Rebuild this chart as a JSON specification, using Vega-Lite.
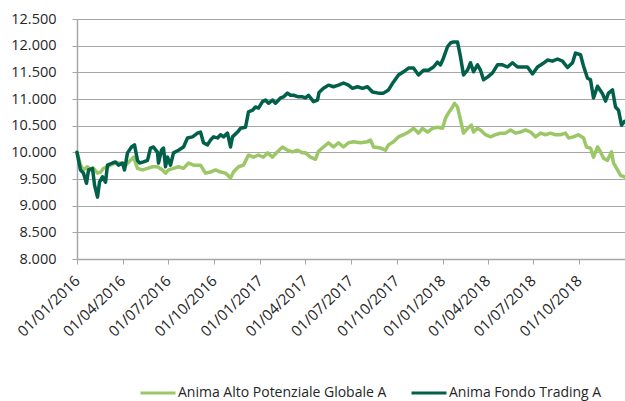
{
  "$schema": "https://vega.github.io/schema/vega-lite/v6.json",
  "width": 548,
  "height": 240,
  "autosize": "none",
  "padding": {"left": 77, "top": 19, "right": 0, "bottom": 142},
  "background": "white",
  "datasets": {
    "serie": [
      {"data": "2016-01-01", "fondo": "Anima Alto Potenziale Globale A", "valore": 10000},
      {"data": "2016-01-08", "fondo": "Anima Alto Potenziale Globale A", "valore": 9760},
      {"data": "2016-01-14", "fondo": "Anima Alto Potenziale Globale A", "valore": 9670},
      {"data": "2016-01-22", "fondo": "Anima Alto Potenziale Globale A", "valore": 9730},
      {"data": "2016-01-28", "fondo": "Anima Alto Potenziale Globale A", "valore": 9670},
      {"data": "2016-02-03", "fondo": "Anima Alto Potenziale Globale A", "valore": 9700},
      {"data": "2016-02-11", "fondo": "Anima Alto Potenziale Globale A", "valore": 9610},
      {"data": "2016-02-17", "fondo": "Anima Alto Potenziale Globale A", "valore": 9630},
      {"data": "2016-02-23", "fondo": "Anima Alto Potenziale Globale A", "valore": 9700},
      {"data": "2016-03-02", "fondo": "Anima Alto Potenziale Globale A", "valore": 9730},
      {"data": "2016-03-08", "fondo": "Anima Alto Potenziale Globale A", "valore": 9760},
      {"data": "2016-03-18", "fondo": "Anima Alto Potenziale Globale A", "valore": 9800},
      {"data": "2016-03-28", "fondo": "Anima Alto Potenziale Globale A", "valore": 9800},
      {"data": "2016-04-07", "fondo": "Anima Alto Potenziale Globale A", "valore": 9760},
      {"data": "2016-04-17", "fondo": "Anima Alto Potenziale Globale A", "valore": 9850},
      {"data": "2016-04-23", "fondo": "Anima Alto Potenziale Globale A", "valore": 9910},
      {"data": "2016-05-01", "fondo": "Anima Alto Potenziale Globale A", "valore": 9700},
      {"data": "2016-05-11", "fondo": "Anima Alto Potenziale Globale A", "valore": 9670},
      {"data": "2016-05-21", "fondo": "Anima Alto Potenziale Globale A", "valore": 9700},
      {"data": "2016-05-31", "fondo": "Anima Alto Potenziale Globale A", "valore": 9730},
      {"data": "2016-06-10", "fondo": "Anima Alto Potenziale Globale A", "valore": 9730},
      {"data": "2016-06-20", "fondo": "Anima Alto Potenziale Globale A", "valore": 9670},
      {"data": "2016-06-26", "fondo": "Anima Alto Potenziale Globale A", "valore": 9610},
      {"data": "2016-07-02", "fondo": "Anima Alto Potenziale Globale A", "valore": 9670},
      {"data": "2016-07-12", "fondo": "Anima Alto Potenziale Globale A", "valore": 9700},
      {"data": "2016-07-22", "fondo": "Anima Alto Potenziale Globale A", "valore": 9730},
      {"data": "2016-08-01", "fondo": "Anima Alto Potenziale Globale A", "valore": 9700},
      {"data": "2016-08-11", "fondo": "Anima Alto Potenziale Globale A", "valore": 9800},
      {"data": "2016-08-21", "fondo": "Anima Alto Potenziale Globale A", "valore": 9760},
      {"data": "2016-09-04", "fondo": "Anima Alto Potenziale Globale A", "valore": 9760},
      {"data": "2016-09-14", "fondo": "Anima Alto Potenziale Globale A", "valore": 9610},
      {"data": "2016-09-24", "fondo": "Anima Alto Potenziale Globale A", "valore": 9630},
      {"data": "2016-10-04", "fondo": "Anima Alto Potenziale Globale A", "valore": 9670},
      {"data": "2016-10-14", "fondo": "Anima Alto Potenziale Globale A", "valore": 9630},
      {"data": "2016-10-24", "fondo": "Anima Alto Potenziale Globale A", "valore": 9610},
      {"data": "2016-11-03", "fondo": "Anima Alto Potenziale Globale A", "valore": 9520},
      {"data": "2016-11-09", "fondo": "Anima Alto Potenziale Globale A", "valore": 9630},
      {"data": "2016-11-19", "fondo": "Anima Alto Potenziale Globale A", "valore": 9730},
      {"data": "2016-11-29", "fondo": "Anima Alto Potenziale Globale A", "valore": 9760},
      {"data": "2016-12-09", "fondo": "Anima Alto Potenziale Globale A", "valore": 9950},
      {"data": "2016-12-19", "fondo": "Anima Alto Potenziale Globale A", "valore": 9910},
      {"data": "2016-12-29", "fondo": "Anima Alto Potenziale Globale A", "valore": 9950},
      {"data": "2017-01-08", "fondo": "Anima Alto Potenziale Globale A", "valore": 9910},
      {"data": "2017-01-16", "fondo": "Anima Alto Potenziale Globale A", "valore": 9990},
      {"data": "2017-01-26", "fondo": "Anima Alto Potenziale Globale A", "valore": 9910},
      {"data": "2017-02-05", "fondo": "Anima Alto Potenziale Globale A", "valore": 10010},
      {"data": "2017-02-15", "fondo": "Anima Alto Potenziale Globale A", "valore": 10100},
      {"data": "2017-02-25", "fondo": "Anima Alto Potenziale Globale A", "valore": 10040},
      {"data": "2017-03-07", "fondo": "Anima Alto Potenziale Globale A", "valore": 10010},
      {"data": "2017-03-17", "fondo": "Anima Alto Potenziale Globale A", "valore": 10040},
      {"data": "2017-03-27", "fondo": "Anima Alto Potenziale Globale A", "valore": 9990},
      {"data": "2017-04-02", "fondo": "Anima Alto Potenziale Globale A", "valore": 9990},
      {"data": "2017-04-12", "fondo": "Anima Alto Potenziale Globale A", "valore": 9910},
      {"data": "2017-04-22", "fondo": "Anima Alto Potenziale Globale A", "valore": 9870},
      {"data": "2017-04-28", "fondo": "Anima Alto Potenziale Globale A", "valore": 10020},
      {"data": "2017-05-08", "fondo": "Anima Alto Potenziale Globale A", "valore": 10100},
      {"data": "2017-05-18", "fondo": "Anima Alto Potenziale Globale A", "valore": 10180},
      {"data": "2017-05-28", "fondo": "Anima Alto Potenziale Globale A", "valore": 10100},
      {"data": "2017-06-07", "fondo": "Anima Alto Potenziale Globale A", "valore": 10180},
      {"data": "2017-06-17", "fondo": "Anima Alto Potenziale Globale A", "valore": 10100},
      {"data": "2017-06-27", "fondo": "Anima Alto Potenziale Globale A", "valore": 10180},
      {"data": "2017-07-07", "fondo": "Anima Alto Potenziale Globale A", "valore": 10200},
      {"data": "2017-07-21", "fondo": "Anima Alto Potenziale Globale A", "valore": 10180},
      {"data": "2017-08-04", "fondo": "Anima Alto Potenziale Globale A", "valore": 10200},
      {"data": "2017-08-10", "fondo": "Anima Alto Potenziale Globale A", "valore": 10230},
      {"data": "2017-08-16", "fondo": "Anima Alto Potenziale Globale A", "valore": 10100},
      {"data": "2017-08-30", "fondo": "Anima Alto Potenziale Globale A", "valore": 10080},
      {"data": "2017-09-09", "fondo": "Anima Alto Potenziale Globale A", "valore": 10040},
      {"data": "2017-09-15", "fondo": "Anima Alto Potenziale Globale A", "valore": 10140},
      {"data": "2017-09-25", "fondo": "Anima Alto Potenziale Globale A", "valore": 10200},
      {"data": "2017-10-05", "fondo": "Anima Alto Potenziale Globale A", "valore": 10290},
      {"data": "2017-10-15", "fondo": "Anima Alto Potenziale Globale A", "valore": 10330},
      {"data": "2017-10-25", "fondo": "Anima Alto Potenziale Globale A", "valore": 10380},
      {"data": "2017-11-04", "fondo": "Anima Alto Potenziale Globale A", "valore": 10450},
      {"data": "2017-11-14", "fondo": "Anima Alto Potenziale Globale A", "valore": 10360},
      {"data": "2017-11-22", "fondo": "Anima Alto Potenziale Globale A", "valore": 10450},
      {"data": "2017-12-02", "fondo": "Anima Alto Potenziale Globale A", "valore": 10380},
      {"data": "2017-12-12", "fondo": "Anima Alto Potenziale Globale A", "valore": 10450},
      {"data": "2017-12-22", "fondo": "Anima Alto Potenziale Globale A", "valore": 10470},
      {"data": "2018-01-01", "fondo": "Anima Alto Potenziale Globale A", "valore": 10450},
      {"data": "2018-01-07", "fondo": "Anima Alto Potenziale Globale A", "valore": 10640},
      {"data": "2018-01-13", "fondo": "Anima Alto Potenziale Globale A", "valore": 10740},
      {"data": "2018-01-21", "fondo": "Anima Alto Potenziale Globale A", "valore": 10850},
      {"data": "2018-01-25", "fondo": "Anima Alto Potenziale Globale A", "valore": 10920},
      {"data": "2018-01-31", "fondo": "Anima Alto Potenziale Globale A", "valore": 10850},
      {"data": "2018-02-06", "fondo": "Anima Alto Potenziale Globale A", "valore": 10610},
      {"data": "2018-02-12", "fondo": "Anima Alto Potenziale Globale A", "valore": 10360},
      {"data": "2018-02-20", "fondo": "Anima Alto Potenziale Globale A", "valore": 10450},
      {"data": "2018-02-28", "fondo": "Anima Alto Potenziale Globale A", "valore": 10510},
      {"data": "2018-03-04", "fondo": "Anima Alto Potenziale Globale A", "valore": 10380},
      {"data": "2018-03-12", "fondo": "Anima Alto Potenziale Globale A", "valore": 10450},
      {"data": "2018-03-18", "fondo": "Anima Alto Potenziale Globale A", "valore": 10420},
      {"data": "2018-03-28", "fondo": "Anima Alto Potenziale Globale A", "valore": 10330},
      {"data": "2018-04-07", "fondo": "Anima Alto Potenziale Globale A", "valore": 10290},
      {"data": "2018-04-17", "fondo": "Anima Alto Potenziale Globale A", "valore": 10330},
      {"data": "2018-04-27", "fondo": "Anima Alto Potenziale Globale A", "valore": 10360},
      {"data": "2018-05-07", "fondo": "Anima Alto Potenziale Globale A", "valore": 10360},
      {"data": "2018-05-17", "fondo": "Anima Alto Potenziale Globale A", "valore": 10420},
      {"data": "2018-05-27", "fondo": "Anima Alto Potenziale Globale A", "valore": 10360},
      {"data": "2018-06-06", "fondo": "Anima Alto Potenziale Globale A", "valore": 10380},
      {"data": "2018-06-16", "fondo": "Anima Alto Potenziale Globale A", "valore": 10420},
      {"data": "2018-06-26", "fondo": "Anima Alto Potenziale Globale A", "valore": 10380},
      {"data": "2018-07-06", "fondo": "Anima Alto Potenziale Globale A", "valore": 10290},
      {"data": "2018-07-16", "fondo": "Anima Alto Potenziale Globale A", "valore": 10360},
      {"data": "2018-07-26", "fondo": "Anima Alto Potenziale Globale A", "valore": 10330},
      {"data": "2018-08-05", "fondo": "Anima Alto Potenziale Globale A", "valore": 10360},
      {"data": "2018-08-15", "fondo": "Anima Alto Potenziale Globale A", "valore": 10330},
      {"data": "2018-08-25", "fondo": "Anima Alto Potenziale Globale A", "valore": 10330},
      {"data": "2018-09-04", "fondo": "Anima Alto Potenziale Globale A", "valore": 10360},
      {"data": "2018-09-10", "fondo": "Anima Alto Potenziale Globale A", "valore": 10270},
      {"data": "2018-09-20", "fondo": "Anima Alto Potenziale Globale A", "valore": 10290},
      {"data": "2018-09-30", "fondo": "Anima Alto Potenziale Globale A", "valore": 10330},
      {"data": "2018-10-10", "fondo": "Anima Alto Potenziale Globale A", "valore": 10270},
      {"data": "2018-10-16", "fondo": "Anima Alto Potenziale Globale A", "valore": 10100},
      {"data": "2018-10-24", "fondo": "Anima Alto Potenziale Globale A", "valore": 10080},
      {"data": "2018-10-30", "fondo": "Anima Alto Potenziale Globale A", "valore": 9910},
      {"data": "2018-11-07", "fondo": "Anima Alto Potenziale Globale A", "valore": 10100},
      {"data": "2018-11-13", "fondo": "Anima Alto Potenziale Globale A", "valore": 10010},
      {"data": "2018-11-19", "fondo": "Anima Alto Potenziale Globale A", "valore": 9890},
      {"data": "2018-11-27", "fondo": "Anima Alto Potenziale Globale A", "valore": 9850},
      {"data": "2018-12-05", "fondo": "Anima Alto Potenziale Globale A", "valore": 10010},
      {"data": "2018-12-09", "fondo": "Anima Alto Potenziale Globale A", "valore": 9800},
      {"data": "2018-12-17", "fondo": "Anima Alto Potenziale Globale A", "valore": 9670},
      {"data": "2018-12-23", "fondo": "Anima Alto Potenziale Globale A", "valore": 9570},
      {"data": "2018-12-31", "fondo": "Anima Alto Potenziale Globale A", "valore": 9540},
      {"data": "2016-01-01", "fondo": "Anima Fondo Trading A", "valore": 10000},
      {"data": "2016-01-08", "fondo": "Anima Fondo Trading A", "valore": 9670},
      {"data": "2016-01-14", "fondo": "Anima Fondo Trading A", "valore": 9610},
      {"data": "2016-01-20", "fondo": "Anima Fondo Trading A", "valore": 9420},
      {"data": "2016-01-24", "fondo": "Anima Fondo Trading A", "valore": 9670},
      {"data": "2016-02-01", "fondo": "Anima Fondo Trading A", "valore": 9700},
      {"data": "2016-02-05", "fondo": "Anima Fondo Trading A", "valore": 9390},
      {"data": "2016-02-11", "fondo": "Anima Fondo Trading A", "valore": 9160},
      {"data": "2016-02-15", "fondo": "Anima Fondo Trading A", "valore": 9440},
      {"data": "2016-02-21", "fondo": "Anima Fondo Trading A", "valore": 9540},
      {"data": "2016-02-27", "fondo": "Anima Fondo Trading A", "valore": 9440},
      {"data": "2016-03-02", "fondo": "Anima Fondo Trading A", "valore": 9760},
      {"data": "2016-03-12", "fondo": "Anima Fondo Trading A", "valore": 9800},
      {"data": "2016-03-18", "fondo": "Anima Fondo Trading A", "valore": 9820},
      {"data": "2016-03-24", "fondo": "Anima Fondo Trading A", "valore": 9760},
      {"data": "2016-04-01", "fondo": "Anima Fondo Trading A", "valore": 9800},
      {"data": "2016-04-05", "fondo": "Anima Fondo Trading A", "valore": 9670},
      {"data": "2016-04-11", "fondo": "Anima Fondo Trading A", "valore": 9990},
      {"data": "2016-04-19", "fondo": "Anima Fondo Trading A", "valore": 10100},
      {"data": "2016-04-25", "fondo": "Anima Fondo Trading A", "valore": 10140},
      {"data": "2016-05-01", "fondo": "Anima Fondo Trading A", "valore": 9850},
      {"data": "2016-05-05", "fondo": "Anima Fondo Trading A", "valore": 9800},
      {"data": "2016-05-13", "fondo": "Anima Fondo Trading A", "valore": 9820},
      {"data": "2016-05-21", "fondo": "Anima Fondo Trading A", "valore": 9850},
      {"data": "2016-05-27", "fondo": "Anima Fondo Trading A", "valore": 10080},
      {"data": "2016-06-02", "fondo": "Anima Fondo Trading A", "valore": 10100},
      {"data": "2016-06-10", "fondo": "Anima Fondo Trading A", "valore": 10000},
      {"data": "2016-06-12", "fondo": "Anima Fondo Trading A", "valore": 9800},
      {"data": "2016-06-18", "fondo": "Anima Fondo Trading A", "valore": 10040},
      {"data": "2016-06-22", "fondo": "Anima Fondo Trading A", "valore": 10080},
      {"data": "2016-06-26", "fondo": "Anima Fondo Trading A", "valore": 9730},
      {"data": "2016-06-30", "fondo": "Anima Fondo Trading A", "valore": 9910},
      {"data": "2016-07-06", "fondo": "Anima Fondo Trading A", "valore": 9760},
      {"data": "2016-07-12", "fondo": "Anima Fondo Trading A", "valore": 9990},
      {"data": "2016-07-22", "fondo": "Anima Fondo Trading A", "valore": 10040},
      {"data": "2016-08-01", "fondo": "Anima Fondo Trading A", "valore": 10100},
      {"data": "2016-08-09", "fondo": "Anima Fondo Trading A", "valore": 10270},
      {"data": "2016-08-19", "fondo": "Anima Fondo Trading A", "valore": 10290},
      {"data": "2016-08-29", "fondo": "Anima Fondo Trading A", "valore": 10360},
      {"data": "2016-09-04", "fondo": "Anima Fondo Trading A", "valore": 10380},
      {"data": "2016-09-10", "fondo": "Anima Fondo Trading A", "valore": 10180},
      {"data": "2016-09-18", "fondo": "Anima Fondo Trading A", "valore": 10140},
      {"data": "2016-09-24", "fondo": "Anima Fondo Trading A", "valore": 10230},
      {"data": "2016-09-30", "fondo": "Anima Fondo Trading A", "valore": 10290},
      {"data": "2016-10-08", "fondo": "Anima Fondo Trading A", "valore": 10270},
      {"data": "2016-10-14", "fondo": "Anima Fondo Trading A", "valore": 10330},
      {"data": "2016-10-20", "fondo": "Anima Fondo Trading A", "valore": 10290},
      {"data": "2016-10-28", "fondo": "Anima Fondo Trading A", "valore": 10360},
      {"data": "2016-11-03", "fondo": "Anima Fondo Trading A", "valore": 10100},
      {"data": "2016-11-07", "fondo": "Anima Fondo Trading A", "valore": 10290},
      {"data": "2016-11-17", "fondo": "Anima Fondo Trading A", "valore": 10380},
      {"data": "2016-11-23", "fondo": "Anima Fondo Trading A", "valore": 10450},
      {"data": "2016-12-03", "fondo": "Anima Fondo Trading A", "valore": 10470},
      {"data": "2016-12-09", "fondo": "Anima Fondo Trading A", "valore": 10760},
      {"data": "2016-12-17", "fondo": "Anima Fondo Trading A", "valore": 10790},
      {"data": "2016-12-23", "fondo": "Anima Fondo Trading A", "valore": 10850},
      {"data": "2016-12-29", "fondo": "Anima Fondo Trading A", "valore": 10830},
      {"data": "2017-01-06", "fondo": "Anima Fondo Trading A", "valore": 10950},
      {"data": "2017-01-12", "fondo": "Anima Fondo Trading A", "valore": 10980},
      {"data": "2017-01-18", "fondo": "Anima Fondo Trading A", "valore": 10920},
      {"data": "2017-01-26", "fondo": "Anima Fondo Trading A", "valore": 10980},
      {"data": "2017-02-01", "fondo": "Anima Fondo Trading A", "valore": 10920},
      {"data": "2017-02-11", "fondo": "Anima Fondo Trading A", "valore": 11020},
      {"data": "2017-02-17", "fondo": "Anima Fondo Trading A", "valore": 11040},
      {"data": "2017-02-25", "fondo": "Anima Fondo Trading A", "valore": 11110},
      {"data": "2017-03-03", "fondo": "Anima Fondo Trading A", "valore": 11070},
      {"data": "2017-03-09", "fondo": "Anima Fondo Trading A", "valore": 11070},
      {"data": "2017-03-19", "fondo": "Anima Fondo Trading A", "valore": 11040},
      {"data": "2017-03-27", "fondo": "Anima Fondo Trading A", "valore": 11040},
      {"data": "2017-04-02", "fondo": "Anima Fondo Trading A", "valore": 11020},
      {"data": "2017-04-08", "fondo": "Anima Fondo Trading A", "valore": 11070},
      {"data": "2017-04-18", "fondo": "Anima Fondo Trading A", "valore": 10950},
      {"data": "2017-04-26", "fondo": "Anima Fondo Trading A", "valore": 10980},
      {"data": "2017-04-29", "fondo": "Anima Fondo Trading A", "valore": 11120},
      {"data": "2017-05-08", "fondo": "Anima Fondo Trading A", "valore": 11200},
      {"data": "2017-05-18", "fondo": "Anima Fondo Trading A", "valore": 11260},
      {"data": "2017-05-28", "fondo": "Anima Fondo Trading A", "valore": 11230},
      {"data": "2017-06-07", "fondo": "Anima Fondo Trading A", "valore": 11260},
      {"data": "2017-06-17", "fondo": "Anima Fondo Trading A", "valore": 11300},
      {"data": "2017-06-27", "fondo": "Anima Fondo Trading A", "valore": 11260},
      {"data": "2017-07-05", "fondo": "Anima Fondo Trading A", "valore": 11200},
      {"data": "2017-07-15", "fondo": "Anima Fondo Trading A", "valore": 11230},
      {"data": "2017-07-25", "fondo": "Anima Fondo Trading A", "valore": 11200},
      {"data": "2017-08-04", "fondo": "Anima Fondo Trading A", "valore": 11230},
      {"data": "2017-08-14", "fondo": "Anima Fondo Trading A", "valore": 11130},
      {"data": "2017-08-26", "fondo": "Anima Fondo Trading A", "valore": 11110},
      {"data": "2017-09-05", "fondo": "Anima Fondo Trading A", "valore": 11110},
      {"data": "2017-09-15", "fondo": "Anima Fondo Trading A", "valore": 11170},
      {"data": "2017-09-25", "fondo": "Anima Fondo Trading A", "valore": 11320},
      {"data": "2017-10-05", "fondo": "Anima Fondo Trading A", "valore": 11450},
      {"data": "2017-10-15", "fondo": "Anima Fondo Trading A", "valore": 11510},
      {"data": "2017-10-25", "fondo": "Anima Fondo Trading A", "valore": 11580},
      {"data": "2017-11-04", "fondo": "Anima Fondo Trading A", "valore": 11580},
      {"data": "2017-11-14", "fondo": "Anima Fondo Trading A", "valore": 11450},
      {"data": "2017-11-24", "fondo": "Anima Fondo Trading A", "valore": 11540},
      {"data": "2017-12-04", "fondo": "Anima Fondo Trading A", "valore": 11540},
      {"data": "2017-12-14", "fondo": "Anima Fondo Trading A", "valore": 11600},
      {"data": "2017-12-22", "fondo": "Anima Fondo Trading A", "valore": 11690},
      {"data": "2017-12-28", "fondo": "Anima Fondo Trading A", "valore": 11640},
      {"data": "2018-01-03", "fondo": "Anima Fondo Trading A", "valore": 11770},
      {"data": "2018-01-11", "fondo": "Anima Fondo Trading A", "valore": 11980},
      {"data": "2018-01-17", "fondo": "Anima Fondo Trading A", "valore": 12050},
      {"data": "2018-01-23", "fondo": "Anima Fondo Trading A", "valore": 12070},
      {"data": "2018-01-31", "fondo": "Anima Fondo Trading A", "valore": 12070},
      {"data": "2018-02-06", "fondo": "Anima Fondo Trading A", "valore": 11790},
      {"data": "2018-02-12", "fondo": "Anima Fondo Trading A", "valore": 11450},
      {"data": "2018-02-20", "fondo": "Anima Fondo Trading A", "valore": 11540},
      {"data": "2018-02-26", "fondo": "Anima Fondo Trading A", "valore": 11680},
      {"data": "2018-03-04", "fondo": "Anima Fondo Trading A", "valore": 11510},
      {"data": "2018-03-12", "fondo": "Anima Fondo Trading A", "valore": 11640},
      {"data": "2018-03-18", "fondo": "Anima Fondo Trading A", "valore": 11540},
      {"data": "2018-03-24", "fondo": "Anima Fondo Trading A", "valore": 11360},
      {"data": "2018-04-01", "fondo": "Anima Fondo Trading A", "valore": 11410},
      {"data": "2018-04-11", "fondo": "Anima Fondo Trading A", "valore": 11490},
      {"data": "2018-04-21", "fondo": "Anima Fondo Trading A", "valore": 11640},
      {"data": "2018-05-01", "fondo": "Anima Fondo Trading A", "valore": 11640},
      {"data": "2018-05-11", "fondo": "Anima Fondo Trading A", "valore": 11600},
      {"data": "2018-05-21", "fondo": "Anima Fondo Trading A", "valore": 11680},
      {"data": "2018-05-31", "fondo": "Anima Fondo Trading A", "valore": 11600},
      {"data": "2018-06-10", "fondo": "Anima Fondo Trading A", "valore": 11600},
      {"data": "2018-06-20", "fondo": "Anima Fondo Trading A", "valore": 11600},
      {"data": "2018-06-30", "fondo": "Anima Fondo Trading A", "valore": 11470},
      {"data": "2018-07-10", "fondo": "Anima Fondo Trading A", "valore": 11600},
      {"data": "2018-07-20", "fondo": "Anima Fondo Trading A", "valore": 11660},
      {"data": "2018-07-30", "fondo": "Anima Fondo Trading A", "valore": 11730},
      {"data": "2018-08-09", "fondo": "Anima Fondo Trading A", "valore": 11710},
      {"data": "2018-08-19", "fondo": "Anima Fondo Trading A", "valore": 11750},
      {"data": "2018-08-29", "fondo": "Anima Fondo Trading A", "valore": 11710},
      {"data": "2018-09-08", "fondo": "Anima Fondo Trading A", "valore": 11590},
      {"data": "2018-09-18", "fondo": "Anima Fondo Trading A", "valore": 11680},
      {"data": "2018-09-24", "fondo": "Anima Fondo Trading A", "valore": 11860},
      {"data": "2018-10-04", "fondo": "Anima Fondo Trading A", "valore": 11830},
      {"data": "2018-10-10", "fondo": "Anima Fondo Trading A", "valore": 11620},
      {"data": "2018-10-18", "fondo": "Anima Fondo Trading A", "valore": 11390},
      {"data": "2018-10-24", "fondo": "Anima Fondo Trading A", "valore": 11360},
      {"data": "2018-10-30", "fondo": "Anima Fondo Trading A", "valore": 11020},
      {"data": "2018-11-07", "fondo": "Anima Fondo Trading A", "valore": 11240},
      {"data": "2018-11-17", "fondo": "Anima Fondo Trading A", "valore": 11100},
      {"data": "2018-11-23", "fondo": "Anima Fondo Trading A", "valore": 10960},
      {"data": "2018-11-29", "fondo": "Anima Fondo Trading A", "valore": 11110},
      {"data": "2018-12-07", "fondo": "Anima Fondo Trading A", "valore": 11170},
      {"data": "2018-12-13", "fondo": "Anima Fondo Trading A", "valore": 10850},
      {"data": "2018-12-19", "fondo": "Anima Fondo Trading A", "valore": 10790},
      {"data": "2018-12-25", "fondo": "Anima Fondo Trading A", "valore": 10510},
      {"data": "2018-12-31", "fondo": "Anima Fondo Trading A", "valore": 10580}
    ]
  },
  "data": {"name": "serie"},
  "mark": {"type": "line", "strokeWidth": 3.5, "strokeJoin": "round", "strokeCap": "round", "clip": false},
  "encoding": {
    "x": {
      "field": "data",
      "type": "temporal",
      "scale": {
        "type": "utc",
        "domain": [
          {"year": 2016, "month": 1, "date": 1, "utc": true},
          {"year": 2019, "month": 1, "date": 1, "utc": true}
        ],
        "nice": false
      },
      "axis": {
        "title": null,
        "grid": false,
        "values": [
          {"year": 2016, "month": 1, "date": 1, "utc": true},
          {"year": 2016, "month": 4, "date": 1, "utc": true},
          {"year": 2016, "month": 7, "date": 1, "utc": true},
          {"year": 2016, "month": 10, "date": 1, "utc": true},
          {"year": 2017, "month": 1, "date": 1, "utc": true},
          {"year": 2017, "month": 4, "date": 1, "utc": true},
          {"year": 2017, "month": 7, "date": 1, "utc": true},
          {"year": 2017, "month": 10, "date": 1, "utc": true},
          {"year": 2018, "month": 1, "date": 1, "utc": true},
          {"year": 2018, "month": 4, "date": 1, "utc": true},
          {"year": 2018, "month": 7, "date": 1, "utc": true},
          {"year": 2018, "month": 10, "date": 1, "utc": true}
        ],
        "labelExpr": "utcFormat(datum.value, '%d/%m/%Y')",
        "labelAngle": -44,
        "labelAlign": "right",
        "labelBaseline": "middle",
        "labelPadding": 14,
        "labelFont": "Open Sans",
        "labelFontSize": 15,
        "labelColor": "#262626",
        "labelOverlap": false,
        "labelFlush": false,
        "tickSize": 5,
        "tickColor": "#a6a6a6",
        "tickWidth": 1,
        "domainColor": "#a6a6a6",
        "domainWidth": 1.5
      }
    },
    "y": {
      "field": "valore",
      "type": "quantitative",
      "scale": {"domain": [8000, 12500], "nice": false, "zero": false},
      "axis": {
        "title": null,
        "values": [8000, 8500, 9000, 9500, 10000, 10500, 11000, 11500, 12000, 12500],
        "labelExpr": "replace(format(datum.value, ',.0f'), ',', '.')",
        "labelFont": "Open Sans",
        "labelFontSize": 14.5,
        "labelColor": "#262626",
        "labelPadding": 16,
        "tickSize": 5,
        "tickColor": "#a6a6a6",
        "domainColor": "#a6a6a6",
        "domainWidth": 1.5,
        "grid": true,
        "gridColor": "#a6a6a6",
        "gridWidth": 1.2
      }
    },
    "color": {
      "field": "fondo",
      "type": "nominal",
      "scale": {
        "domain": ["Anima Alto Potenziale Globale A", "Anima Fondo Trading A"],
        "range": ["#9CC766", "#00604A"]
      },
      "legend": {
        "title": null,
        "orient": "none",
        "direction": "horizontal",
        "legendX": 62,
        "legendY": 355,
        "symbolType": "stroke",
        "symbolSize": 1225,
        "symbolStrokeWidth": 3,
        "labelFont": "Open Sans",
        "labelFontSize": 14,
        "labelColor": "#262626",
        "labelOffset": 1,
        "columnPadding": 18,
        "labelLimit": 400
      }
    }
  },
  "config": {"view": {"stroke": null}}
}
